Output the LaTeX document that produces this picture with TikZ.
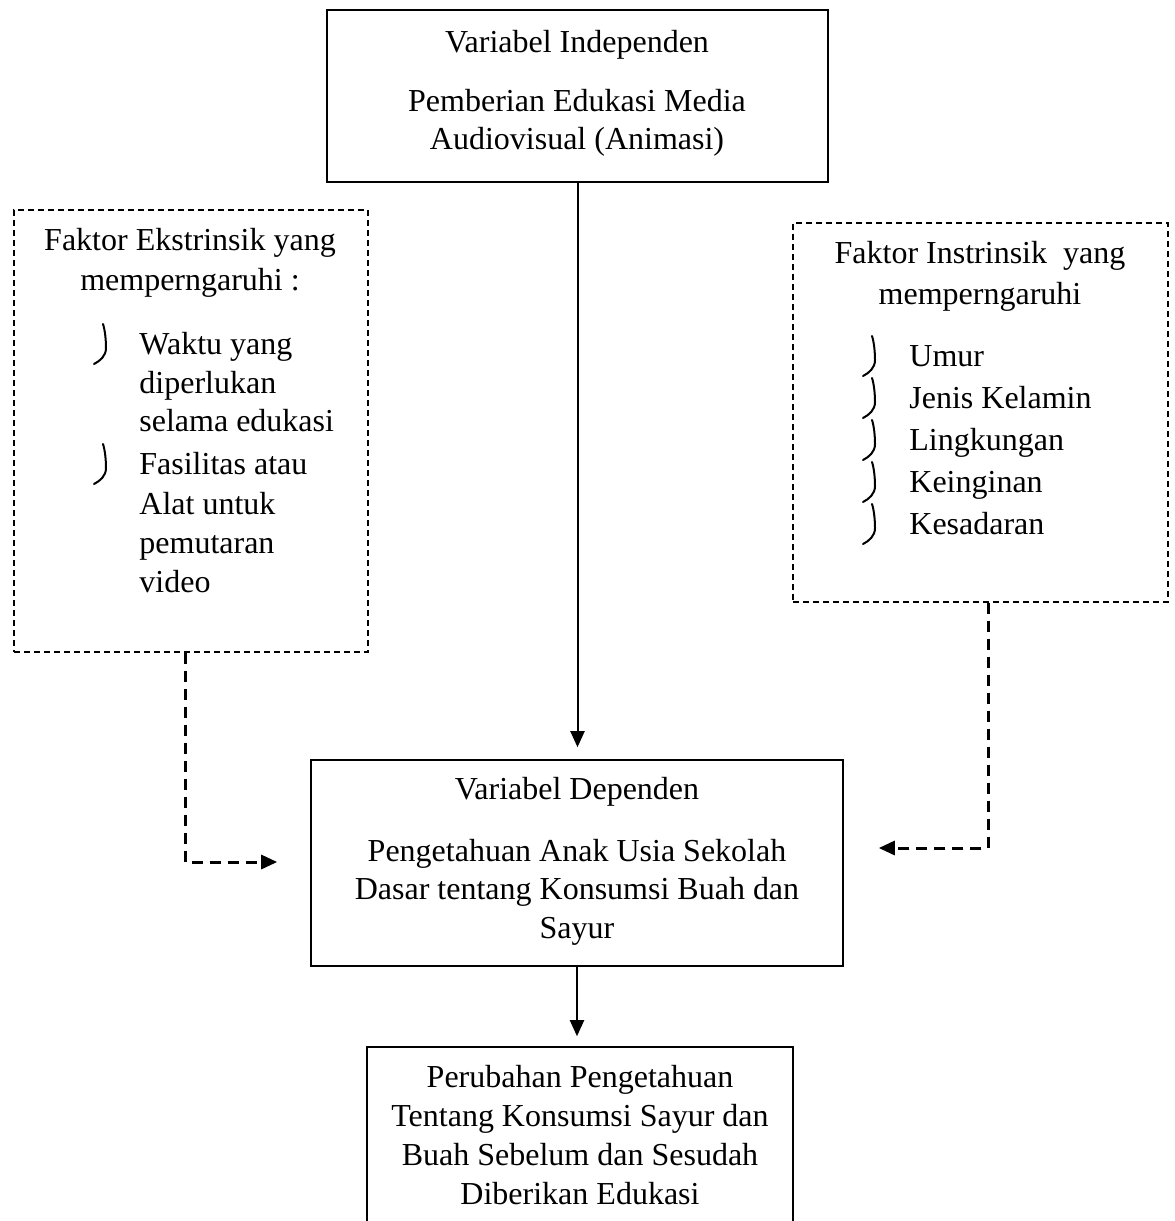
\documentclass[tikz,border=0pt]{standalone}
\usepackage{fontspec}
\setmainfont{Liberation Serif}
\usepackage{tikz}
\usetikzlibrary{arrows.meta,positioning,calc,fit}
\tikzset{
    box/.style={draw,line width=0.8pt,inner sep=0pt},
    dashbox/.style={draw,line width=0.7pt,dash pattern=on 3pt off 2pt,inner sep=0pt},
    line/.style={font=\fontsize{16}{19.5}\selectfont,inner sep=0pt,anchor=base},
    item/.style={line,anchor=base west},
    bulletmark/.pic={
        \draw[line width=1pt,line cap=round] (-1,-30) .. controls (1,-24) and (2,-14) .. (2,-6)
            .. controls (2,2) and (-4,7) .. (-10,10);
    },
    arrow/.style={-{Triangle[length=8pt,width=7pt]},line width=1pt},
    dasharrow/.style={arrow,line width=1.5pt,dash pattern=on 5.5pt off 3.5pt}
}
\begin{document}
\begin{tikzpicture}[x=0.5pt,y=-0.5pt]
    \clip (0,0) rectangle (1174,1221);
    % boxes
    \node[box,fit={(327,10)(828,182)}] (indep) {};
    \node[dashbox,fit={(14,210)(368,652)}] (ext) {};
    \node[dashbox,fit={(793,223)(1168,602)}] (intr) {};
    \node[box,fit={(311,760)(843,966)}] (dep) {};
    \node[box,fit={(367,1047)(793,1240)}] (change) {};
    % independent variable
    \node[line] (indep-1) at (577,52) {Variabel Independen};
    \node[line] (indep-2) at (577,111) {Pemberian Edukasi Media};
    \node[line] (indep-3) at (577,149) {Audiovisual (Animasi)};
    % extrinsic factors
    \node[line] (ext-t1) at (190,250) {Faktor Ekstrinsik yang};
    \node[line] (ext-t2) at (190,290) {memperngaruhi :};
    \foreach \y/\txt [count=\i] in {354/Waktu yang,393/diperlukan,431/selama edukasi,474/Fasilitas atau,514/Alat untuk,553/pemutaran,592/video}
        \node[item] (ext-\i) at (139,\y) {\txt};
    \foreach \y in {354,474}
        \pic at (104,\y) {bulletmark};
    % intrinsic factors
    \node[line] (intr-t1) at (980,263) {Faktor Instrinsik~ yang};
    \node[line] (intr-t2) at (980,304) {memperngaruhi};
    \foreach \y/\txt [count=\i] in {366/Umur,408/Jenis Kelamin,450/Lingkungan,492/Keinginan,534/Kesadaran}{
        \pic at (873,\y) {bulletmark};
        \node[item] (intr-\i) at (909,\y) {\txt};
    }
    % dependent variable
    \node[line] (dep-1) at (577,799) {Variabel Dependen};
    \node[line] (dep-2) at (577,861) {Pengetahuan Anak Usia Sekolah};
    \node[line] (dep-3) at (577,899) {Dasar tentang Konsumsi Buah dan};
    \node[line] (dep-4) at (577,938) {Sayur};
    % outcome
    \node[line] (change-1) at (580,1087) {Perubahan Pengetahuan};
    \node[line] (change-2) at (580,1126) {Tentang Konsumsi Sayur dan};
    \node[line] (change-3) at (580,1165) {Buah Sebelum dan Sesudah};
    \node[line] (change-4) at (580,1204) {Diberikan Edukasi};
    % connectors
    \coordinate (ext-turn) at (185,862);
    \coordinate (intr-turn) at (988,848);
    \draw[arrow,shorten >=6pt] (indep.south) -- (indep.south |- dep.north);
    \draw[arrow,shorten >=5pt] (dep.south) -- (dep.south |- change.north);
    \draw[dasharrow,shorten >=16.5pt] (ext.south -| ext-turn) |- (dep.west |- ext-turn);
    \draw[dasharrow,shorten >=17.5pt] (intr.south -| intr-turn) |- (dep.east |- intr-turn);
\end{tikzpicture}
\end{document}
